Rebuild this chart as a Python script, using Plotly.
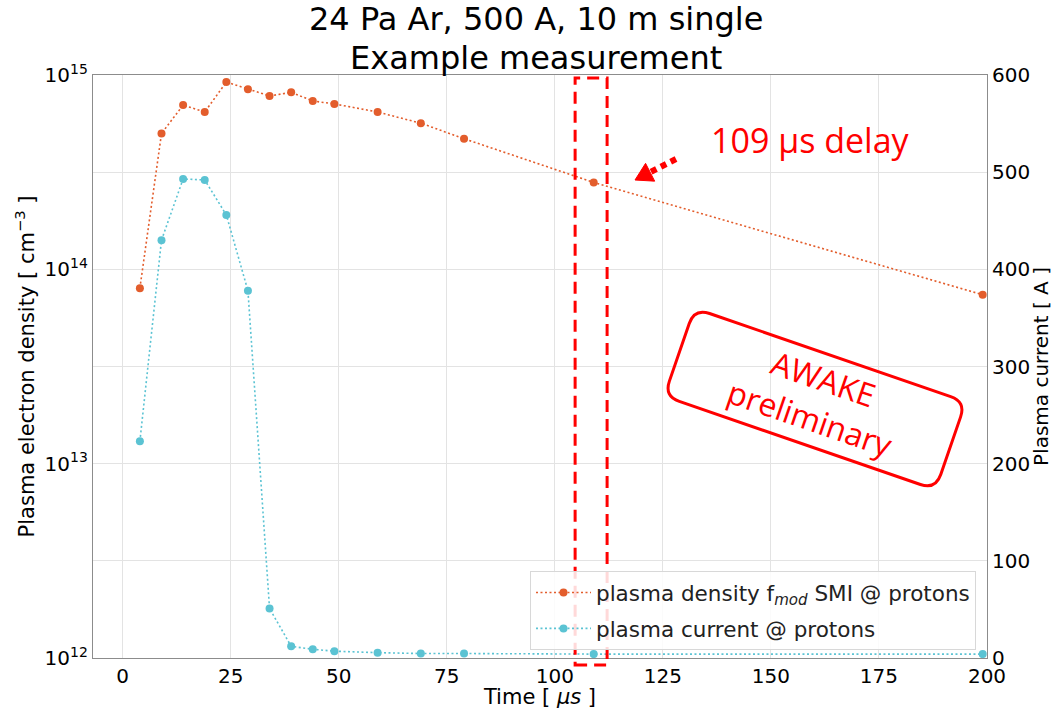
import math
import plotly.graph_objects as go

# ---------------- data ----------------
time_us = [4, 9, 14, 19, 24, 29, 34, 39, 44, 49, 59, 69, 79, 109, 199]
density_cm3 = [8.0e13, 5.0e14, 7.0e14, 6.45e14, 9.2e14, 8.45e14, 7.8e14, 8.15e14,
               7.35e14, 7.1e14, 6.45e14, 5.65e14, 4.7e14, 2.8e14, 7.4e13]
current_A = [223, 430, 493, 492, 456, 378, 51, 12, 9, 7, 5.5, 4.6, 4.6, 4, 4]

x_ticks = [0, 25, 50, 75, 100, 125, 150, 175, 200]
y_ticks = [1e12, 1e13, 1e14, 1e15]
y_ticktext = ["10<sup>12</sup>", "10<sup>13</sup>", "10<sup>14</sup>", "10<sup>15</sup>"]
y2_ticks = [0, 100, 200, 300, 400, 500, 600]

delay_us = 109

# ---------------- layout geometry ----------------
W, H = 1053, 709
L, R, T, B = 93, 987, 75, 658


def px2paper(px, py):
    return (px - L) / (R - L), (B - py) / (B - T)


ORANGE = "#E35D2C"
CYAN = "#5BC3D3"
RED = "#FF0000"
FONT = "DejaVu Sans"

fig = go.Figure()
fig.add_trace(go.Scatter(
    x=time_us, y=density_cm3, mode="lines+markers",
    name="plasma density f<sub><i>mod</i></sub> SMI @ protons",
    legendgroup="a",
    line=dict(color=ORANGE, width=1.6, dash="2px,2.5px"),
    marker=dict(color=ORANGE, size=8),
    yaxis="y",
))
fig.add_trace(go.Scatter(
    x=time_us, y=current_A, mode="lines+markers",
    name="plasma current @ protons",
    legendgroup="b",
    line=dict(color=CYAN, width=1.6, dash="2px,2.5px"),
    marker=dict(color=CYAN, size=8),
    yaxis="y2",
))

# dashed rectangle around the 109 us point
fig.add_shape(type="rect", xref="x", yref="paper",
              x0=delay_us - 4.3, x1=delay_us + 3.1, y0=-0.012, y1=0.995,
              line=dict(color=RED, width=3, dash="12px,7px"), layer="above")

# arrow: dotted shaft + filled head
tail = (676, 159)
tip = (635, 180)
dx, dy = tip[0] - tail[0], tip[1] - tail[1]
ln = math.hypot(dx, dy)
ux, uy = dx / ln, dy / ln
nx, ny = -uy, ux
hl, hw = 17, 10
base = (tip[0] - hl * ux, tip[1] - hl * uy)
p_tail = px2paper(*tail)
p_base = px2paper(base[0] + 2 * ux, base[1] + 2 * uy)
fig.add_shape(type="line", xref="paper", yref="paper",
              x0=p_tail[0], y0=p_tail[1], x1=p_base[0], y1=p_base[1],
              line=dict(color=RED, width=6, dash="6px,5px"), layer="above")
c1 = px2paper(base[0] + hw * nx, base[1] + hw * ny)
c2 = px2paper(base[0] - hw * nx, base[1] - hw * ny)
pt = px2paper(*tip)
fig.add_shape(type="path", xref="paper", yref="paper",
              path=f"M {pt[0]},{pt[1]} L {c1[0]},{c1[1]} L {c2[0]},{c2[1]} Z",
              fillcolor=RED, line=dict(color=RED, width=1), layer="above")

tx, ty = px2paper(810, 140)
fig.add_annotation(x=tx, y=ty, xref="paper", yref="paper", showarrow=False,
                   xanchor="center", yanchor="middle",
                   text="109 μs delay", font=dict(family="Open Sans", size=34, color=RED))

# rotated rounded "stamp"
cx, cy = 815, 399
sw, sh, rr = 287, 93, 16
ang = math.radians(19)


def rot(x, y):
    px = cx + x * math.cos(ang) - y * math.sin(ang)
    py = cy + x * math.sin(ang) + y * math.cos(ang)
    a, b = px2paper(px, py)
    return f"{a},{b}"


hw2, hh2 = sw / 2, sh / 2
path = (
    f"M {rot(-hw2 + rr, -hh2)} L {rot(hw2 - rr, -hh2)} "
    f"Q {rot(hw2, -hh2)} {rot(hw2, -hh2 + rr)} L {rot(hw2, hh2 - rr)} "
    f"Q {rot(hw2, hh2)} {rot(hw2 - rr, hh2)} L {rot(-hw2 + rr, hh2)} "
    f"Q {rot(-hw2, hh2)} {rot(-hw2, hh2 - rr)} L {rot(-hw2, -hh2 + rr)} "
    f"Q {rot(-hw2, -hh2)} {rot(-hw2 + rr, -hh2)} Z"
)
fig.add_shape(type="path", xref="paper", yref="paper", path=path,
              line=dict(color=RED, width=3), layer="above")
sx, sy = px2paper(cx + 2, cy)
fig.add_annotation(x=sx, y=sy, xref="paper", yref="paper", showarrow=False,
                   xanchor="center", yanchor="middle",
                   text="AWAKE<br>preliminary", textangle=19,
                   font=dict(family="Open Sans", size=32, color=RED))

# title as two centred lines
for txt, ypix in [("24 Pa Ar, 500 A, 10 m single", 19), ("Example measurement", 58)]:
    ax_, ay_ = px2paper(536, ypix)
    fig.add_annotation(x=ax_, y=ay_, xref="paper", yref="paper", showarrow=False,
                       xanchor="center", yanchor="middle", text=txt,
                       font=dict(family=FONT, size=32, color="black"))

axis_common = dict(
    showline=True, linecolor="#8c8c8c", linewidth=1.2,
    tickfont=dict(family=FONT, size=20, color="black"),
    ticks="", zeroline=False,
)

fig.update_layout(
    width=W, height=H,
    margin=dict(l=L, r=W - R, t=T, b=H - B, autoexpand=False),
    plot_bgcolor="white", paper_bgcolor="white",
    font=dict(family=FONT, color="black"),
    xaxis=dict(range=[-6.85, 200], tickvals=x_ticks, mirror=True,
               showgrid=True, gridcolor="#e3e3e3", gridwidth=1,
               title=dict(text="Time [ <i>μs</i> ]", font=dict(family=FONT, size=21), standoff=0),
               **axis_common),
    yaxis=dict(type="log", range=[12, 15], tickvals=y_ticks, ticktext=y_ticktext,
               showgrid=False,
               title=dict(text="Plasma electron density [ cm<sup>−3</sup> ]",
                          font=dict(family=FONT, size=21), standoff=4),
               **axis_common),
    yaxis2=dict(overlaying="y", side="right", range=[0, 600], tickvals=y2_ticks,
                showgrid=True, gridcolor="#e3e3e3", gridwidth=1,
                title=dict(text="Plasma current [ A ]", font=dict(family=FONT, size=20), standoff=4),
                **axis_common),
    legend=dict(x=(976 - L) / (R - L), y=(B - 650) / (B - T), xanchor="right", yanchor="bottom",
                bgcolor="rgba(255,255,255,0.85)", bordercolor="#d8d8d8", borderwidth=1,
                font=dict(family=FONT, size=21.5, color="#222"), tracegroupgap=5,
                itemwidth=55),
    showlegend=True,
)

fig.write_html("out.html")
